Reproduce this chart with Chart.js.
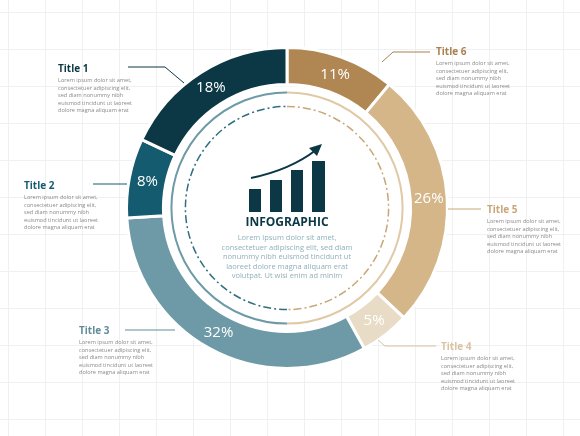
<!DOCTYPE html>
<html>
<head>
<meta charset="utf-8">
<script src="https://cdn.jsdelivr.net/npm/chart.js@4"></script>
<style>
  html, body { margin: 0; padding: 0; background: #fff; }
  #wrap { width: 580px; height: 436px; position: relative; }
</style>
</head>
<body>
<div id="wrap"><canvas id="chart"></canvas></div>
<script>
// Data, clockwise from 12 o'clock
const categories = ['Title 6', 'Title 5', 'Title 4', 'Title 3', 'Title 2', 'Title 1'];
const values = [11, 26, 5, 32, 8, 18];
const colors = ['#b08753', '#d5b689', '#e9dcc6', '#6d9aa6', '#145b70', '#0c3845'];
const titleColors = ['#a9814f', '#c9a677', '#d9c3a2', '#5f8d9a', '#145b70', '#0c3845'];

const lorem = ['Lorem ipsum dolor sit amet,', 'consectetuer adipiscing elit,', 'sed diam nonummy nibh',
    'euismod tincidunt ut laoreet', 'dolore magna aliquam erat'];
const centerText = ['Lorem ipsum dolor sit amet,', 'consectetuer adipiscing elit, sed diam',
    'nonummy nibh euismod tincidunt ut', 'laoreet dolore magna aliquam erat', 'volutpat. Ut wisi enim ad minim'];

// label blocks: x, y of title, leader line points
const blocks = [
    { x: 436, y: 51, line: [[430, 52], [393, 52], [382, 62]] },
    { x: 487, y: 209, line: [[481, 209], [448, 209]] },
    { x: 441, y: 346, line: [[436, 346], [385, 346], [378, 340]] },
    { x: 79, y: 330, line: [[125, 330], [175, 330]] },
    { x: 24, y: 185, line: [[93, 184], [127, 184]] },
    { x: 58, y: 68, line: [[128, 67], [165, 67], [184, 83]] }
];

const decor = {
    id: 'decor',
    beforeDraw(chart) {
        const c = chart.ctx;
        c.save();
        c.fillStyle = '#fff';
        c.fillRect(0, 0, chart.width, chart.height);
        c.strokeStyle = '#eef0f2';
        c.lineWidth = 1;
        for (let x = 8; x < 580; x += 37) { c.beginPath(); c.moveTo(x + .5, 0); c.lineTo(x + .5, 436); c.stroke(); }
        for (let y = 12; y < 436; y += 37) { c.beginPath(); c.moveTo(0, y + .5); c.lineTo(580, y + .5); c.stroke(); }
        c.restore();
    },
    afterDraw(chart) {
        const c = chart.ctx;
        const arc = chart.getDatasetMeta(0).data[0];
        const cx = arc.x, cy = arc.y;
        c.save();
        // inner white disc and rings
        c.fillStyle = '#fff';
        c.beginPath(); c.arc(cx, cy, arc.innerRadius - 2, 0, Math.PI * 2); c.fill();
        c.lineWidth = 2;
        c.strokeStyle = '#6d9aa6';
        c.beginPath(); c.arc(cx, cy, arc.innerRadius - 8, Math.PI / 2, Math.PI * 1.5); c.stroke();
        c.strokeStyle = '#e0c9a6';
        c.beginPath(); c.arc(cx, cy, arc.innerRadius - 8, -Math.PI / 2, Math.PI / 2); c.stroke();
        c.setLineDash([8, 3, 2, 3]);
        c.lineWidth = 1.5;
        c.strokeStyle = '#2f6f80';
        c.beginPath(); c.arc(cx, cy, arc.innerRadius - 22, Math.PI / 2, Math.PI * 1.5); c.stroke();
        c.strokeStyle = '#c9a677';
        c.beginPath(); c.arc(cx, cy, arc.innerRadius - 22, -Math.PI / 2, Math.PI / 2); c.stroke();
        c.setLineDash([]);

        // icon
        c.fillStyle = '#0c3845';
        [[249, 189, 12, 23], [270, 180, 12, 32], [291, 170, 12, 42], [312, 161, 13, 51]].forEach(b => c.fillRect(b[0], b[1], b[2], b[3]));
        c.strokeStyle = '#0c3845'; c.lineWidth = 2;
        c.beginPath(); c.moveTo(251, 178); c.quadraticCurveTo(290, 170, 316, 150); c.stroke();
        c.beginPath(); c.moveTo(322, 144); c.lineTo(309, 148); c.lineTo(317, 156); c.closePath(); c.fill();
        c.textAlign = 'center';
        c.font = 'bold 12px "Open Sans"';
        c.fillText('INFOGRAPHIC', 287, 226);
        c.fillStyle = '#8fb0ba';
        c.font = '7.5px "Open Sans"';
        centerText.forEach((t, i) => c.fillText(t, 287, 240 + i * 9.5));

        // slice labels
        c.fillStyle = '#fff';
        c.font = '15px "Open Sans"';
        c.textBaseline = 'middle';
        const meta = chart.getDatasetMeta(0).data;
        meta.forEach((a, i) => {
            const mid = (a.startAngle + a.endAngle) / 2;
            const r = (a.innerRadius + a.outerRadius) / 2;
            c.fillText(values[i] + '%', cx + Math.cos(mid) * r, cy + Math.sin(mid) * r);
        });

        // outside titles
        c.textAlign = 'left';
        c.textBaseline = 'alphabetic';
        blocks.forEach((b, i) => {
            c.strokeStyle = titleColors[i]; c.lineWidth = 1;
            c.beginPath();
            b.line.forEach((p, j) => j ? c.lineTo(p[0], p[1]) : c.moveTo(p[0], p[1]));
            c.stroke();
            c.fillStyle = titleColors[i];
            c.font = 'bold 10px "Open Sans"';
            c.fillText(categories[i], b.x, b.y + 4);
            c.fillStyle = '#8a8a8a';
            c.font = '5.6px "Open Sans"';
            lorem.forEach((t, k) => c.fillText(t, b.x, b.y + 14 + k * 7.5));
        });
        c.restore();
    }
};

new Chart(document.getElementById('chart'), {
    type: 'doughnut',
    data: {
        labels: categories,
        datasets: [{ data: values, backgroundColor: colors, borderColor: '#fff', borderWidth: 3 }]
    },
    options: {
        responsive: true,
        maintainAspectRatio: false,
        animation: false,
        cutout: '77%',
        layout: { padding: { left: 125, right: 131, top: 46, bottom: 66 } },
        plugins: { legend: { display: false }, tooltip: { enabled: false } }
    },
    plugins: [decor]
});
</script>
</body>
</html>
